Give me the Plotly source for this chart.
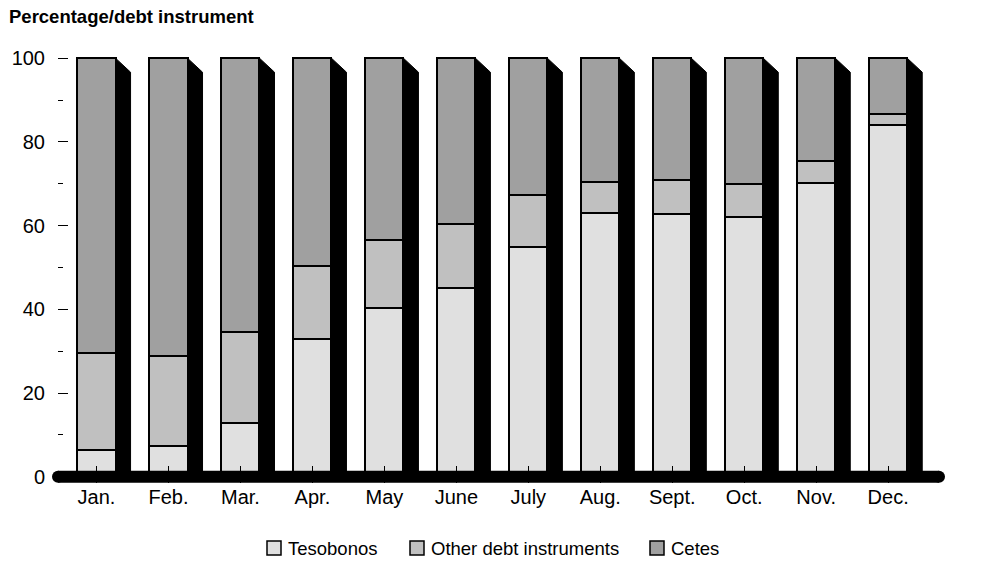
import plotly.graph_objects as go

# Monthly composition of the debt stock (percent of total)
months = ["Jan.", "Feb.", "Mar.", "Apr.", "May", "June",
          "July", "Aug.", "Sept.", "Oct.", "Nov.", "Dec."]
tesobonos = [6.3, 7.3, 12.9, 32.9, 40.3, 45.2, 55.0, 62.9, 62.8, 62.1, 70.2, 84.0]
other_debt = [23.2, 21.5, 21.7, 17.4, 16.3, 15.3, 12.3, 7.4, 8.1, 7.8, 5.2, 2.7]
cetes = [70.5, 71.2, 65.4, 49.7, 43.4, 39.5, 32.7, 29.7, 29.1, 30.1, 24.6, 13.3]

series_names = ["Tesobonos", "Other debt instruments", "Cetes"]
series_values = [tesobonos, other_debt, cetes]
series_colors = ["#e0e0e0", "#c0c0c0", "#a0a0a0"]

FONT = "Liberation Sans, Arial, sans-serif"
W, H = 993, 561
ML, MR, MT, MB = 52, 48, 54, 78
X_RANGE = [-0.618, 11.79]
Y_RANGE = [-1.5, 101]
BAR_W = 0.53
plot_w = W - ML - MR
plot_h = H - MT - MB
px_per_x = plot_w / (X_RANGE[1] - X_RANGE[0])
px_per_y = plot_h / (Y_RANGE[1] - Y_RANGE[0])
DEPTH_X = 15 / px_per_x   # side-face depth, horizontal
DEPTH_Y = 14 / px_per_y   # side-face depth, vertical

xs = list(range(len(months)))

fig = go.Figure()

# Front faces: stacked bars
for name, vals, col in zip(series_names, series_values, series_colors):
    fig.add_trace(go.Bar(
        x=xs, y=vals, name=name, width=BAR_W,
        marker=dict(color=col, line=dict(color="black", width=2)),
        showlegend=False, hoverinfo="name+y",
    ))

# Dark side faces giving each column its depth
side_x, side_y = [], []
for i in xs:
    top = tesobonos[i] + other_debt[i] + cetes[i]
    xr = i + BAR_W / 2
    side_x += [xr, xr + DEPTH_X, xr + DEPTH_X, xr, xr, None]
    side_y += [top, top - DEPTH_Y, 0, 0, top, None]
fig.add_trace(go.Scatter(
    x=side_x, y=side_y, mode="lines", fill="toself",
    fillcolor="black", line=dict(color="black", width=1),
    showlegend=False, hoverinfo="skip",
))

def px_to_paper_x(px):
    return (px - ML) / plot_w

def px_to_paper_y(py):
    return (H - MB - py) / plot_h

shapes = []
# Thick rounded baseline
base_left, base_right, base_r = 58, 939, 6
shapes.append(dict(type="line", xref="paper", yref="y",
                   x0=px_to_paper_x(base_left), x1=px_to_paper_x(base_right),
                   y0=0, y1=0, line=dict(color="black", width=12), layer="above"))
for bx in (base_left, base_right):
    shapes.append(dict(type="circle", xref="paper", yref="y",
                       xsizemode="pixel", ysizemode="pixel",
                       xanchor=px_to_paper_x(bx), yanchor=0,
                       x0=-base_r, x1=base_r, y0=-base_r, y1=base_r,
                       fillcolor="black", line=dict(width=0), layer="above"))

# Legend row below the chart
annotations = []
legend_box_px = [274, 417, 657]
legend_y = px_to_paper_y(548)
for name, col, bx in zip(series_names, series_colors, legend_box_px):
    shapes.append(dict(type="rect", xref="paper", yref="paper",
                       xsizemode="pixel", ysizemode="pixel",
                       xanchor=px_to_paper_x(bx), yanchor=legend_y,
                       x0=-7, x1=7, y0=-7, y1=7,
                       fillcolor=col, line=dict(color="black", width=1.5)))
    annotations.append(dict(text=name, xref="paper", yref="paper",
                            x=px_to_paper_x(bx + 12), y=legend_y,
                            xanchor="left", yanchor="middle", showarrow=False,
                            font=dict(family=FONT, size=18.5, color="black")))

fig.update_layout(
    width=W, height=H, autosize=False,
    margin=dict(l=ML, r=MR, t=MT, b=MB, pad=0),
    paper_bgcolor="white", plot_bgcolor="white",
    barmode="stack", bargap=0,
    title=dict(text="<b>Percentage/debt instrument</b>",
               x=9 / W, xanchor="left", xref="container",
               y=1 - 17 / H, yanchor="middle",
               font=dict(family=FONT, size=18.5, color="black")),
    xaxis=dict(range=X_RANGE, tickmode="array", tickvals=xs, ticktext=months,
               ticks="inside", ticklen=17, tickcolor="black", tickwidth=1,
               showgrid=False, zeroline=False, showline=False,
               tickfont=dict(family=FONT, size=20, color="black")),
    yaxis=dict(range=Y_RANGE, tickmode="array", tickvals=[0, 20, 40, 60, 80, 100],
               anchor="free", position=px_to_paper_x(57), side="left",
               ticks="inside", ticklen=10, tickcolor="black", tickwidth=1,
               minor=dict(tickvals=[10, 30, 50, 70, 90], ticks="inside",
                          ticklen=5, tickcolor="black", tickwidth=1),
               ticklabelstandoff=12,
               showgrid=False, zeroline=False, showline=False,
               tickfont=dict(family=FONT, size=20, color="black")),
    shapes=shapes, annotations=annotations,
    showlegend=False,
)

fig.write_html("out.html")
